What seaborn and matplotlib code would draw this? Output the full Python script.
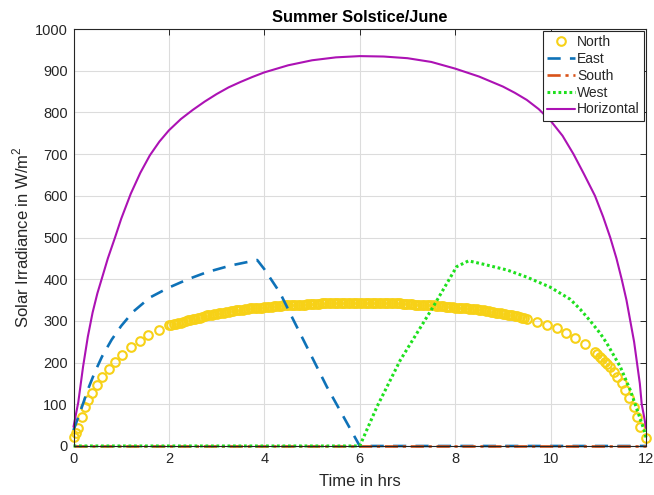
import matplotlib
matplotlib.use("Agg")
import matplotlib.pyplot as plt
import seaborn as sns
import pandas as pd

# ---- data (time in hours, irradiance in W/m^2) ----
north_t = [0.0, 0.05, 0.1, 0.17, 0.24, 0.31, 0.38, 0.49, 0.6, 0.74, 0.87, 1.02, 1.2, 1.39, 1.57, 1.8,
           2.0, 2.05, 2.1, 2.15, 2.2, 2.25, 2.3, 2.35, 2.4, 2.45, 2.5, 2.55, 2.6, 2.65, 2.7, 2.75, 2.8, 2.85, 2.9, 2.95,
           3.0, 3.05, 3.1, 3.15, 3.2, 3.25, 3.3, 3.35, 3.4, 3.45, 3.5, 3.55, 3.6, 3.65, 3.7, 3.75, 3.8, 3.85, 3.9, 3.95,
           4.0, 4.05, 4.1, 4.15, 4.2, 4.25, 4.3, 4.35, 4.4, 4.45, 4.5, 4.55, 4.6, 4.65, 4.7, 4.75, 4.8, 4.85, 4.9, 4.95,
           5.0, 5.05, 5.1, 5.15, 5.2, 5.25, 5.3, 5.35, 5.4, 5.45, 5.5, 5.55, 5.6, 5.65, 5.7, 5.75, 5.8, 5.85, 5.9, 5.95,
           6.0, 6.05, 6.1, 6.15, 6.2, 6.25, 6.3, 6.35, 6.4, 6.45, 6.5, 6.55, 6.6, 6.65, 6.7, 6.75, 6.8, 6.85, 6.9, 6.95,
           7.0, 7.05, 7.1, 7.15, 7.2, 7.25, 7.3, 7.35, 7.4, 7.45, 7.5, 7.55, 7.6, 7.65, 7.7, 7.75, 7.8, 7.85, 7.9, 7.95,
           8.0, 8.05, 8.1, 8.15, 8.2, 8.25, 8.3, 8.35, 8.4, 8.45, 8.5, 8.55, 8.6, 8.65, 8.7, 8.75, 8.8, 8.85, 8.9, 8.95,
           9.0, 9.05, 9.1, 9.15, 9.2, 9.25, 9.3, 9.35, 9.4, 9.45, 9.5,
           9.72, 9.93, 10.13, 10.32, 10.51, 10.72, 10.93,
           10.98, 11.03, 11.08, 11.13, 11.18, 11.25, 11.32, 11.39, 11.49, 11.56,
           11.65, 11.74, 11.81, 11.88, 12.0]
north_v = [22, 32, 42, 70, 93, 110, 127, 146, 165, 185, 202, 218, 237, 252, 266, 278,
           289, 290, 292, 293, 295, 296, 298, 299, 301, 302, 304, 305, 307, 308, 310, 311, 313, 314, 315, 316,
           317, 318, 319, 320, 321, 322, 323, 324, 325, 326, 327, 327, 328, 329, 330, 330, 331, 331, 332, 332,
           333, 333, 334, 334, 335, 335, 336, 336, 337, 337, 338, 338, 338, 338, 339, 339, 339, 339, 340, 340,
           341, 341, 341, 341, 342, 342, 342, 342, 342, 342, 343, 343, 343, 343, 343, 343, 344, 344, 344, 344,
           344, 344, 344, 344, 344, 344, 344, 344, 343, 343, 343, 343, 343, 343, 342, 342, 342, 342, 341, 341,
           340, 340, 340, 339, 339, 339, 339, 338, 338, 338, 337, 337, 336, 336, 335, 335, 334, 334, 333, 333,
           332, 332, 331, 331, 330, 330, 329, 329, 328, 328, 327, 326, 325, 324, 323, 322, 321, 320, 319, 318,
           317, 316, 315, 314, 313, 312, 311, 310, 308, 307, 305,
           297, 290, 283, 271, 258, 244, 226,
           220, 214, 208, 202, 196, 190, 178, 166, 150, 134,
           114, 93, 70, 46, 18]

east_t = [0.0, 0.15, 0.3, 0.45, 0.6, 0.8, 1.0, 1.25, 1.6, 2.0, 2.4, 2.8, 3.3, 3.85,
          4.0, 4.33, 4.61, 5.31, 6.0, 9.0, 12.0]
east_v = [38, 85, 135, 178, 215, 255, 288, 322, 356, 380, 400, 417, 433, 446,
          424, 367, 302, 142, 0, 0, 0]

south_t = [0.0, 6.0, 12.0]
south_v = [0, 0, 0]

west_t = [0.0, 3.0, 6.0, 6.36, 6.85, 7.54, 8.03, 8.28, 8.59, 9.09, 9.5, 9.99, 10.41,
          10.62, 10.83, 11.04, 11.18, 11.46, 11.67, 11.84, 11.96, 12.0]
west_v = [0, 0, 0, 94, 206, 334, 430, 444, 436, 422, 405, 381, 352,
          328, 300, 270, 246, 190, 134, 78, 38, 20]

horiz_t = [0.0, 0.1, 0.2, 0.3, 0.4, 0.5, 0.6, 0.72, 0.87, 1.0, 1.2, 1.4, 1.6, 1.8,
           2.0, 2.25, 2.5, 2.75, 3.0, 3.25, 3.5, 3.75, 4.0, 4.5, 5.0, 5.5, 6.0,
           6.5, 7.0, 7.5, 8.0, 8.5, 9.0, 9.25, 9.5, 9.75, 10.0, 10.25, 10.48, 10.7,
           10.93, 11.1, 11.25, 11.38, 11.49, 11.59, 11.67, 11.75, 11.81, 11.87, 11.91,
           11.96, 12.0]
horiz_v = [46, 105, 190, 262, 320, 366, 404, 450, 500, 545, 605, 655, 697, 730,
           757, 784, 806, 826, 844, 860, 873, 885, 896, 913, 925, 932, 935,
           934, 930, 921, 905, 886, 862, 847, 830, 808, 780, 744, 700, 652,
           600, 550, 500, 450, 400, 350, 300, 250, 200, 150, 100,
           70, 43]

x_ticks = [0, 2, 4, 6, 8, 10, 12]
y_ticks = [0, 100, 200, 300, 400, 500, 600, 700, 800, 900, 1000]

# ---- style ----
sns.set_style("whitegrid")
plt.rcParams["font.family"] = ["Liberation Sans", "DejaVu Sans"]
plt.rcParams["mathtext.fontset"] = "custom"
plt.rcParams["mathtext.rm"] = "Liberation Sans"

YELLOW = "#F7D117"
BLUE = "#0E72B8"
ORANGE = "#D95319"
GREEN = "#1EE01E"
PURPLE = "#AC12B4"
DARK = "#262626"

fig = plt.figure(figsize=(6.54, 4.95), dpi=100)
ax = fig.add_axes([0.1124, 0.0990, 0.8754, 0.8424])

north = pd.DataFrame({"t": north_t, "v": north_v})
east = pd.DataFrame({"t": east_t, "v": east_v})
south = pd.DataFrame({"t": south_t, "v": south_v})
west = pd.DataFrame({"t": west_t, "v": west_v})
horiz = pd.DataFrame({"t": horiz_t, "v": horiz_v})

sns.lineplot(data=north, x="t", y="v", ax=ax, label="North", errorbar=None,
             linestyle="none", marker="o", markersize=6.2,
             markerfacecolor="none", markeredgecolor=YELLOW,
             markeredgewidth=1.5, color=YELLOW)
sns.lineplot(data=east, x="t", y="v", ax=ax, label="East", errorbar=None,
             color=BLUE, linewidth=1.9, dashes=False)
sns.lineplot(data=south, x="t", y="v", ax=ax, label="South", errorbar=None,
             color=ORANGE, linewidth=1.9, dashes=False)
sns.lineplot(data=west, x="t", y="v", ax=ax, label="West", errorbar=None,
             color=GREEN, linewidth=2.2, dashes=False)
sns.lineplot(data=horiz, x="t", y="v", ax=ax, label="Horizontal", errorbar=None,
             color=PURPLE, linewidth=1.5, dashes=False)

lines = ax.get_lines()
lines[1].set_dashes((5, 3.5))
lines[2].set_dashes((5, 1.8, 1.2, 1.8))
lines[3].set_dashes((0.9, 0.9))
for ln in lines:
    ln.set_clip_on(False)

# ---- axes ----
ax.set_xlim(0, 12)
ax.set_ylim(0, 1000)
ax.set_xticks(x_ticks)
ax.set_yticks(y_ticks)
ax.grid(True, color="#dcdcdc", linewidth=0.8)
ax.tick_params(axis="both", which="both", direction="in", length=4, width=0.7,
               colors=DARK, labelsize=10.5, top=True, right=True,
               labeltop=False, labelright=False, pad=4)
for s in ax.spines.values():
    s.set_color(DARK)
    s.set_linewidth(0.8)

ax.set_title("Summer Solstice/June", fontsize=11.8, fontweight="bold", pad=5, color="black")
ax.set_xlabel("Time in hrs", fontsize=12, color=DARK, labelpad=6)
ax.set_ylabel("Solar Irradiance in W/m$^2$", fontsize=12, color=DARK, labelpad=3)

leg = ax.legend(loc="upper right", fontsize=10, frameon=True, fancybox=False,
                framealpha=1, edgecolor=DARK, borderaxespad=0.15,
                handlelength=2.0, handletextpad=0.15, labelspacing=0.2,
                borderpad=0.3)
leg.get_frame().set_linewidth(0.8)

fig.savefig("out.png", dpi=100)
